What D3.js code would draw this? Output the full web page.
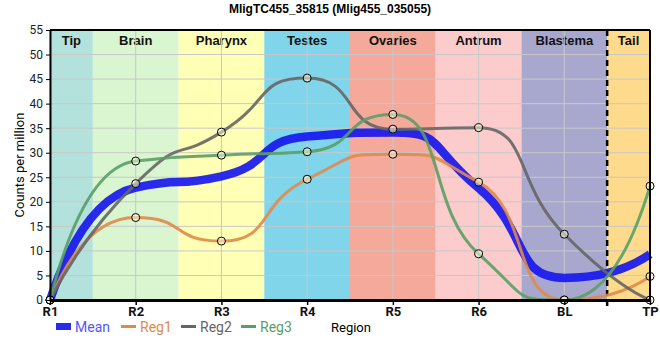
<!DOCTYPE html>
<html><head><meta charset="utf-8">
<script src="https://cdn.jsdelivr.net/npm/d3@7"></script>
<style>body{margin:0;background:#fff}svg{display:block}</style>
</head><body>
<svg id="c" width="660" height="360"></svg>
<script>
const categories = ["R1","R2","R3","R4","R5","R6","BL","TP"];
const meanVals = [0, 22.9, 25.2, 33.3, 34.1, 22.8, 4.5, 9.3];
const reg1 = [0, 16.8, 12.0, 24.6, 29.7, 24.0, 0, 4.8];
const reg2 = [0, 23.7, 34.2, 45.2, 34.8, 35.1, 13.4, 0];
const reg3 = [0, 28.3, 29.5, 30.2, 37.8, 9.4, 0, 23.2];
const regions = ["Tip","Brain","Pharynx","Testes","Ovaries","Antrum","Blastema","Tail"];
const regionColors = ["#b3e2dd","#d9f6d0","#ffffb6","#80d5ea","#f4a99b","#fccbcb","#a8a8cf","#fedb8c"];
const yTicks = [0,5,10,15,20,25,30,35,40,45,50,55];

const svg = d3.select("#c");
const L=50, R=650, T=30, B=300;
const x = d3.scalePoint().domain(categories).range([L,R]);
const y = d3.scaleLinear().domain([0,55]).range([B,T]);
const step = x.step();

// smooth spline: collinear control points, clamped to avoid false extremes; quadratic end segments
const K = 0.6;
function splinePath(vals){
  const pts = vals.map((v,i)=>({px:x(categories[i]), py:y(v)}));
  pts.forEach((p,i)=>{
    if(i>0 && i<pts.length-1){
      const a=pts[i-1], b=pts[i+1];
      let lx=p.px+(a.px-p.px)*K, ly=p.py+(a.py-p.py)*K;
      let rx=p.px+(b.px-p.px)*K, ry=p.py+(b.py-p.py)*K;
      let corr=0;
      if(rx!==lx) corr=((ry-ly)*(rx-p.px))/(rx-lx)+p.py-ry;
      ly+=corr; ry+=corr;
      if(ly>a.py && ly>p.py){ ly=Math.max(a.py,p.py); ry=2*p.py-ly; }
      else if(ly<a.py && ly<p.py){ ly=Math.min(a.py,p.py); ry=2*p.py-ly; }
      if(ry>b.py && ry>p.py){ ry=Math.max(b.py,p.py); ly=2*p.py-ry; }
      else if(ry<b.py && ry<p.py){ ry=Math.min(b.py,p.py); ly=2*p.py-ry; }
      p.lx=lx; p.ly=ly; p.rx=rx; p.ry=ry;
    }
  });
  const n = pts.length;
  const path = d3.path();
  path.moveTo(pts[0].px, pts[0].py);
  path.quadraticCurveTo(pts[1].lx, pts[1].ly, pts[1].px, pts[1].py);
  for(let i=2;i<n-1;i++){
    const a=pts[i-1], p=pts[i];
    path.bezierCurveTo(a.rx, a.ry, p.lx, p.ly, p.px, p.py);
  }
  path.quadraticCurveTo(pts[n-2].rx, pts[n-2].ry, pts[n-1].px, pts[n-1].py);
  return path.toString();
}

// bands
const g = svg.append("g");
regions.forEach((r,i)=>{
  const x0 = Math.max(L, x(categories[i]) - step/2);
  const x1 = Math.min(R, x(categories[i]) + step/2);
  g.append("rect").attr("x",x0).attr("y",T).attr("width",x1-x0).attr("height",B-T).attr("fill",regionColors[i]);
  g.append("text").attr("x",(x0+x1)/2).attr("y",T+15).attr("text-anchor","middle")
    .attr("font-family","Liberation Sans, Arial, sans-serif").attr("font-weight","bold").attr("font-size",13)
    .attr("fill","#111").text(r);
});

// grid
yTicks.forEach(t=>{ if(t>0&&t<55) svg.append("line").attr("x1",L).attr("x2",R).attr("y1",y(t)).attr("y2",y(t)).attr("stroke","#c8c8c8").attr("stroke-width",1);});
categories.forEach(c=>{ svg.append("line").attr("x1",x(c)).attr("x2",x(c)).attr("y1",T).attr("y2",B).attr("stroke","#c8c8c8").attr("stroke-width",1);});

// dashed separator
const sep = x("BL")+step/2;
svg.append("line").attr("x1",sep).attr("x2",sep).attr("y1",T).attr("y2",B+6).attr("stroke","#000").attr("stroke-width",2.5).attr("stroke-dasharray","6,4");

// lines
const series = [
  {name:"Reg1", vals:reg1, color:"#e0894a"},
  {name:"Reg2", vals:reg2, color:"#666666"},
  {name:"Reg3", vals:reg3, color:"#5a9e66"}
];
svg.append("path").attr("d",splinePath(meanVals)).attr("fill","none").attr("stroke","#1414ee").attr("stroke-opacity",0.9).attr("stroke-width",8.5);
series.forEach(s=>{
  svg.append("path").attr("d",splinePath(s.vals)).attr("fill","none").attr("stroke",s.color).attr("stroke-opacity",0.9).attr("stroke-width",3);
});
series.forEach(s=>{
  s.vals.forEach((v,i)=>{
    svg.append("circle").attr("cx",x(categories[i])).attr("cy",y(v)).attr("r",4)
      .attr("fill","#ffffdd").attr("fill-opacity",0.5).attr("stroke","#000").attr("stroke-width",1);
  });
});

// axes
const yAxis = svg.append("g").attr("transform",`translate(${L},0)`).call(d3.axisLeft(y).tickValues(yTicks).tickSize(4).tickSizeOuter(0));
yAxis.select(".domain").attr("stroke","#000").attr("stroke-width",2);
yAxis.selectAll("text").attr("font-family","Roboto, sans-serif").attr("font-size",12).attr("fill","#222");
const xAxis = svg.append("g").attr("transform",`translate(0,${B})`).call(d3.axisBottom(x).tickSize(5).tickSizeOuter(0));
xAxis.select(".domain").attr("stroke","#000").attr("stroke-width",3);
xAxis.selectAll("text").attr("font-family","Roboto, sans-serif").attr("font-size",13).attr("font-weight","bold").attr("fill","#111").attr("dy","0.6em");
xAxis.selectAll(".tick line").attr("stroke","#000").attr("stroke-width",1.5);
// frame
svg.append("line").attr("x1",L).attr("x2",R).attr("y1",T).attr("y2",T).attr("stroke","#000").attr("stroke-width",2);
svg.append("line").attr("x1",R).attr("x2",R).attr("y1",T).attr("y2",B).attr("stroke","#000").attr("stroke-width",2);

// title
svg.append("text").attr("x",330).attr("y",13).attr("text-anchor","middle").attr("font-family","Liberation Sans, Arial, sans-serif")
  .attr("font-weight","bold").attr("font-size",12).attr("fill","#000").text("MligTC455_35815 (Mlig455_035055)");
// y label
svg.append("text").attr("transform","translate(24,165) rotate(-90)").attr("text-anchor","middle")
  .attr("font-family","Roboto, sans-serif").attr("font-size",13).attr("fill","#000").text("Counts per million");
// x label
svg.append("text").attr("x",331).attr("y",332).attr("font-family","Roboto, sans-serif").attr("font-size",13).attr("fill","#000").text("Region");

// legend
const lg = svg.append("g");
lg.append("rect").attr("x",56).attr("y",323).attr("width",15).attr("height",7).attr("fill","#1414ee").attr("fill-opacity",0.9);
lg.append("text").attr("x",75).attr("y",332).attr("font-family","Roboto, sans-serif").attr("font-size",14).attr("fill","#5555ff").text("Mean");
const lx = [121,181,241];
series.forEach((s,i)=>{
  lg.append("line").attr("x1",lx[i]).attr("x2",lx[i]+15).attr("y1",326.5).attr("y2",326.5).attr("stroke",s.color).attr("stroke-width",3);
  lg.append("text").attr("x",lx[i]+19).attr("y",332).attr("font-family","Roboto, sans-serif").attr("font-size",14).attr("fill",s.color).text(s.name);
});
</script>
</body></html>
